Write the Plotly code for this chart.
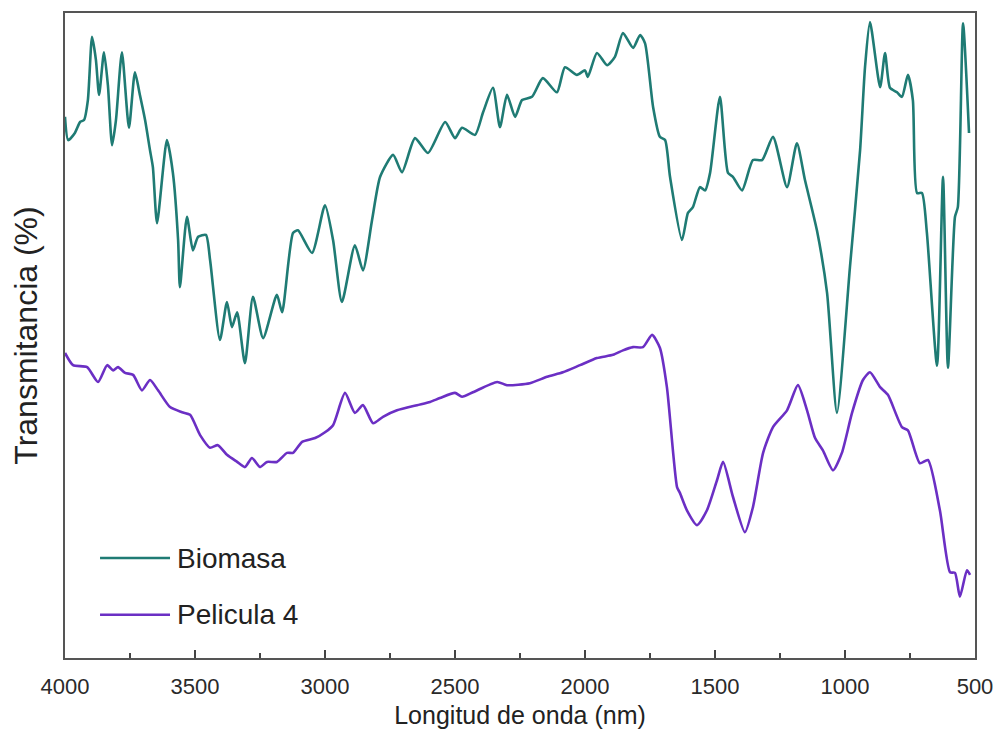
import plotly.graph_objects as go

# Biomasa spectrum (wavenumber, transmittance a.u.)
bio_wn = [4000, 3988, 3962, 3942, 3927, 3912, 3896, 3881, 3869, 3850, 3835, 3819, 3804, 3781, 3754, 3731,
          3712, 3692, 3673, 3662, 3646, 3608, 3585, 3565, 3558, 3531, 3508, 3488, 3458, 3442, 3404, 3377,
          3358, 3338, 3308, 3277, 3238, 3185, 3165, 3123, 3104, 3050, 3000, 2969, 2935, 2885, 2854, 2819,
          2788, 2738, 2704, 2654, 2604, 2538, 2500, 2473, 2423, 2392, 2354, 2327, 2300, 2269, 2242, 2204,
          2162, 2108, 2077, 2031, 2000, 1989, 1954, 1915, 1885, 1854, 1815, 1788, 1769, 1738, 1712, 1692,
          1673, 1627, 1604, 1585, 1558, 1538, 1519, 1481, 1450, 1431, 1396, 1354, 1319, 1277, 1223, 1185,
          1154, 1108, 1069, 1031, 981, 942, 923, 904, 865, 846, 827, 800, 781, 758, 739, 723, 704, 685,
          646, 623, 604, 577, 566, 546, 523]
bio_t = [83.9, 80.3, 81.4, 83.1, 83.4, 86.5, 96.3, 92.7, 87.3, 93.9, 88.8, 79.5, 83.4, 93.9, 82.2, 90.8,
         87.3, 83.4, 78.7, 76.1, 67.4, 80.3, 75.2, 64.8, 57.5, 68.4, 63.2, 65.3, 65.6, 61.7, 49.3, 55.2,
         51.3, 53.6, 45.7, 56.0, 49.6, 56.3, 53.6, 65.9, 66.3, 62.8, 70.2, 64.8, 55.2, 64.0, 60.1, 67.9,
         74.6, 78.0, 75.3, 80.6, 78.3, 83.1, 80.6, 82.2, 81.1, 84.6, 88.4, 82.3, 87.3, 83.9, 86.5, 87.0,
         89.9, 87.7, 91.6, 90.4, 91.1, 90.1, 93.8, 91.9, 93.2, 96.9, 94.6, 96.6, 95.3, 85.4, 80.8, 80.3,
         74.6, 64.8, 69.0, 69.9, 73.0, 72.5, 75.2, 87.0, 75.2, 74.6, 72.5, 77.2, 77.2, 80.8, 73.0, 79.8,
         74.1, 66.3, 56.6, 38.0, 60.6, 78.7, 91.6, 98.6, 88.5, 93.8, 88.4, 87.7, 87.0, 90.4, 86.5, 72.1, 72.1, 65.9,
         45.3, 74.6, 45.0, 68.4, 69.9, 98.4, 81.4]

# Pelicula 4 spectrum
pel_wn = [4000, 3969, 3915, 3873, 3838, 3815, 3796, 3769, 3738, 3704, 3673, 3642, 3596, 3550, 3519, 3481,
          3442, 3412, 3377, 3338, 3308, 3281, 3250, 3223, 3185, 3146, 3123, 3088, 3038, 3000, 2969, 2923,
          2885, 2854, 2815, 2777, 2723, 2646, 2596, 2558, 2500, 2473, 2431, 2338, 2300, 2212, 2146, 2085,
          2019, 1954, 1892, 1854, 1815, 1777, 1742, 1712, 1685, 1646, 1635, 1608, 1569, 1531, 1492, 1469,
          1431, 1385, 1354, 1315, 1277, 1223, 1181, 1146, 1115, 1085, 1046, 1012, 973, 931, 904, 865, 835,
          781, 758, 712, 681, 635, 596, 577, 558, 531, 519]
pel_t = [47.3, 45.4, 45.1, 42.8, 45.4, 44.6, 45.1, 44.2, 43.9, 41.5, 43.1, 41.5, 38.9, 38.1, 37.7, 34.6,
         32.6, 33.0, 31.5, 30.4, 29.6, 31.0, 29.6, 30.4, 30.4, 31.8, 31.8, 33.5, 34.1, 35.0, 36.1, 41.1,
         38.0, 39.2, 36.4, 37.4, 38.4, 39.2, 39.7, 40.3, 41.1, 40.5, 41.2, 42.8, 42.3, 42.6, 43.6, 44.3,
         45.4, 46.5, 47.0, 47.7, 48.2, 48.2, 50.1, 48.1, 42.0, 26.5, 25.6, 22.9, 20.6, 22.9, 27.6, 30.4,
         25.0, 19.5, 23.4, 31.8, 35.8, 38.4, 42.3, 38.4, 34.1, 32.2, 29.1, 31.8, 38.0, 43.1, 44.3, 42.0, 40.8,
         35.8, 35.3, 30.2, 30.7, 22.9, 13.3, 13.2, 9.5, 13.6, 12.9]

x_ticks = [4000, 3500, 3000, 2500, 2000, 1500, 1000, 500]
series_names = ["Biomasa", "Pelicula 4"]

teal = "#1f7b74"
purple = "#6b2fc4"
colors = [teal, purple]

fig = go.Figure()
fig.add_trace(go.Scatter(x=bio_wn, y=bio_t, mode="lines", name=series_names[0], showlegend=False,
                         line=dict(color=teal, width=2.6, shape="spline", smoothing=0.6)))
fig.add_trace(go.Scatter(x=pel_wn, y=pel_t, mode="lines", name=series_names[1], showlegend=False,
                         line=dict(color=purple, width=2.6, shape="spline", smoothing=0.6)))

# manual legend (long line samples as in the original)
legend_y = [0.155, 0.067]
for name, col, ly in zip(series_names, colors, legend_y):
    fig.add_shape(type="line", xref="paper", yref="paper", x0=0.0385, x1=0.1154, y0=ly, y1=ly,
                  line=dict(color=col, width=2.6))
    fig.add_annotation(xref="paper", yref="paper", x=0.121, y=ly, text=name, showarrow=False,
                       xanchor="left", yanchor="middle",
                       font=dict(size=28, color="#222", family="Liberation Sans, Arial, sans-serif"))

axis_font = dict(family="Liberation Sans, Arial, sans-serif", size=22, color="#2a2a2a")
fig.update_layout(
    width=998, height=749,
    margin=dict(l=65, r=23, t=13, b=91, autoexpand=False),
    paper_bgcolor="white", plot_bgcolor="white",
    font=dict(family="Liberation Sans, Arial, sans-serif", color="#222"),
    showlegend=False,
    xaxis=dict(range=[4000, 500], tickvals=x_ticks, ticktext=[str(v) for v in x_ticks],
               ticks="inside", ticklen=8, tickwidth=1.5, tickcolor="#444", ticklabelstandoff=8,
               minor=dict(dtick=250, tick0=500, ticks="inside", ticklen=5, tickcolor="#444", tickwidth=1.5),
               showline=True, linecolor="#555", linewidth=2, mirror=True, automargin=False,
               showgrid=False, zeroline=False, tickfont=axis_font,
               title=dict(text="Longitud de onda (nm)", font=dict(size=25, color="#222"), standoff=8)),
    yaxis=dict(range=[0, 100], showticklabels=False, ticks="", automargin=False,
               showline=True, linecolor="#555", linewidth=2, mirror=True,
               showgrid=False, zeroline=False,
               title=dict(text="Transmitancia (%)", font=dict(size=32, color="#222"), standoff=16)),
)

fig.write_html("out.html")
